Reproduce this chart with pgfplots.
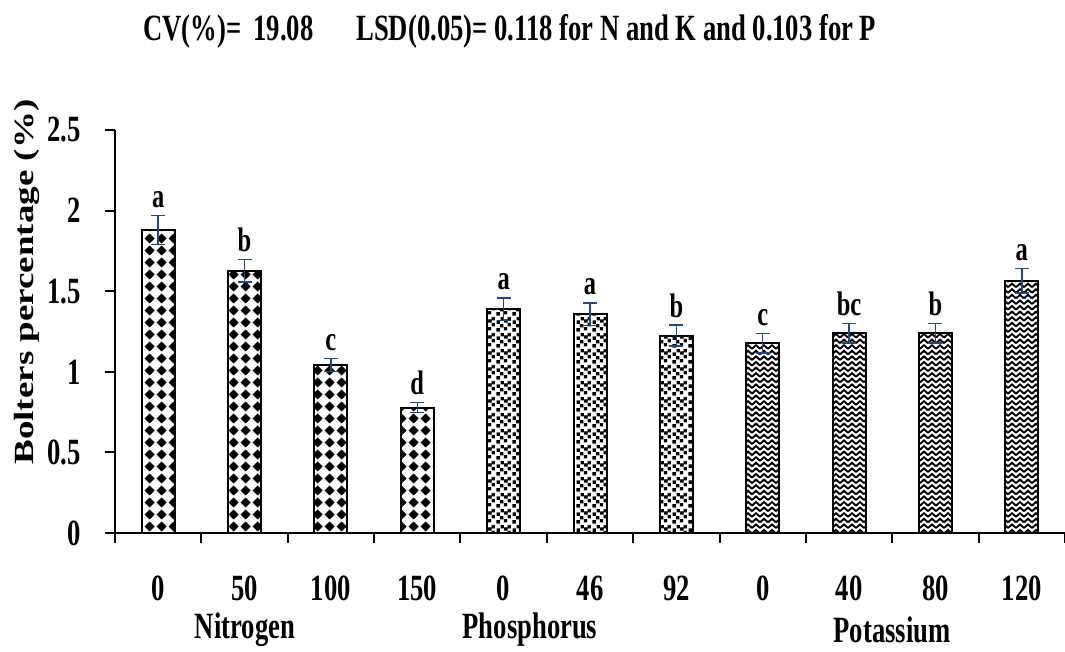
\documentclass[border=0pt]{standalone}
\usepackage{fontspec}
\setmainfont{Liberation Serif}[FakeStretch=0.72]
\newfontfamily\ylfont{Liberation Serif}
\usepackage{graphicx}
\usepackage{pgfplots}
\usepackage{pgfplotstable}
\pgfplotsset{compat=1.18}
\usetikzlibrary{patterns}
\definecolor{errblue}{RGB}{31,73,125}

\pgfdeclarepatternformonly{diamonds}{\pgfpointorigin}{\pgfpoint{6pt}{6pt}}{\pgfpoint{6pt}{6pt}}{%
 \pgfpathmoveto{\pgfpoint{3pt}{0.3pt}}%
 \pgfpathlineto{\pgfpoint{5.7pt}{3pt}}%
 \pgfpathlineto{\pgfpoint{3pt}{5.7pt}}%
 \pgfpathlineto{\pgfpoint{0.3pt}{3pt}}%
 \pgfpathclose
 \pgfusepath{fill}}

\pgfdeclarepatternformonly{sqdots}{\pgfpointorigin}{\pgfpoint{8pt}{8pt}}{\pgfpoint{8pt}{8pt}}{%
 \pgfpathrectangle{\pgfpoint{0.2pt}{0.2pt}}{\pgfpoint{1.8pt}{1.8pt}}%
 \pgfpathrectangle{\pgfpoint{4.1pt}{0.8pt}}{\pgfpoint{1.8pt}{1.8pt}}%
 \pgfpathrectangle{\pgfpoint{2.1pt}{2.4pt}}{\pgfpoint{1.8pt}{1.8pt}}%
 \pgfpathrectangle{\pgfpoint{6.1pt}{3.0pt}}{\pgfpoint{1.8pt}{1.8pt}}%
 \pgfpathrectangle{\pgfpoint{0.3pt}{4.3pt}}{\pgfpoint{1.8pt}{1.8pt}}%
 \pgfpathrectangle{\pgfpoint{4.3pt}{4.9pt}}{\pgfpoint{1.8pt}{1.8pt}}%
 \pgfpathrectangle{\pgfpoint{2.4pt}{6.2pt}}{\pgfpoint{1.7pt}{1.7pt}}%
 \pgfpathrectangle{\pgfpoint{6.2pt}{6.2pt}}{\pgfpoint{1.7pt}{1.7pt}}%
 \pgfusepath{fill}}

\pgfdeclarepatternformonly{weave}{\pgfpoint{-0.5pt}{-0.5pt}}{\pgfpoint{4.5pt}{3.3pt}}{\pgfpoint{4pt}{2.8pt}}{%
 \pgfsetlinewidth{0.95pt}%
 \pgfpathmoveto{\pgfpoint{0pt}{0.4pt}}%
 \pgfpathlineto{\pgfpoint{2pt}{2.2pt}}%
 \pgfpathlineto{\pgfpoint{4pt}{0.4pt}}%
 \pgfusepath{stroke}}

\pgfplotstableread{
x y err lab
0 1.880 0.090 a
1 1.627 0.070 b
2 1.043 0.040 c
3 0.778 0.030 d
}\dataN
\pgfplotstableread{
x y err lab
4 1.389 0.070 a
5 1.358 0.070 a
6 1.225 0.065 b
}\dataP
\pgfplotstableread{
x y err lab
7 1.178 0.060 c
8 1.240 0.060 bc
9 1.240 0.060 b
10 1.565 0.075 a
}\dataK

\begin{document}
\begin{tikzpicture}
\begin{axis}[
 at={(0,0)}, anchor=south west,
 scale only axis, width=475pt, height=201.5pt,
 xmin=-0.5, xmax=10.5, ymin=0, ymax=2.5,
 axis lines*=left,
 axis line style={line width=1pt},
 every tick/.style={line width=1pt, black},
 tick align=outside,
 major tick length=5pt,
 xtick={-0.5,0.5,...,10.5}, xticklabels={},
 extra x ticks={0,1,...,10},
 extra x tick labels={0,50,100,150,0,46,92,0,40,80,120},
 extra x tick style={major tick length=0pt, tick label style={yshift=-18pt}},
 ytick={0,0.5,...,2.5},
 yticklabel style={xshift=-8.5pt},
 tick label style={font=\fontsize{18.5}{22}\selectfont\bfseries},
 /pgf/number format/assume math mode=true,
 clip=false,
 error bars/y dir=both, error bars/y explicit,
 error bars/error bar style={errblue, line width=0.75pt},
 error bars/error mark options={rotate=90, errblue, mark size=3.5pt, line width=0.75pt},
]
\addplot[ybar, bar width=16.5pt, bar shift=0pt, draw=black, line width=1pt, pattern=diamonds]
  table[x=x, y=y, y error=err]{\dataN};
\addplot[ybar, bar width=16.5pt, bar shift=0pt, draw=black, line width=1pt, pattern=sqdots]
  table[x=x, y=y, y error=err]{\dataP};
\addplot[ybar, bar width=16.5pt, bar shift=0pt, draw=black, line width=1pt, pattern=weave]
  table[x=x, y=y, y error=err]{\dataK};
\pgfplotsset{lbl/.style={only marks, mark=none, nodes near coords, point meta=explicit symbolic,
  nodes near coords style={anchor=base, yshift=4pt, inner sep=0pt, font=\fontsize{17}{20}\selectfont\bfseries}}}
\addplot[lbl, error bars/y dir=none] table[x=x, y expr=\thisrow{y}+\thisrow{err}, meta=lab]{\dataN};
\addplot[lbl, error bars/y dir=none] table[x=x, y expr=\thisrow{y}+\thisrow{err}, meta=lab]{\dataP};
\addplot[lbl, error bars/y dir=none] table[x=x, y expr=\thisrow{y}+\thisrow{err}, meta=lab]{\dataK};
\end{axis}
\node[font=\fontsize{18.5}{22}\selectfont\bfseries] at (65pt,-48.5pt) {Nitrogen};
\node[font=\fontsize{18.5}{22}\selectfont\bfseries] at (207.5pt,-48.5pt) {Phosphorus};
\node[font=\fontsize{18.5}{22}\selectfont\bfseries] at (388.5pt,-48.5pt) {Potassium};
\node[anchor=base west, inner sep=0pt, font=\fontsize{18.5}{22}\selectfont\bfseries] at (14pt,246pt) {CV(\%)=\hspace{6pt}19.08\hspace{21.5pt}LSD(0.05)= 0.118 for N and K and 0.103 for P};
\node[rotate=90] at (-44pt,125.5pt) {\scalebox{1}[0.75]{\ylfont\bfseries\fontsize{18.5}{22}\selectfont Bolters percentage (\%)}};
\pgfresetboundingbox
\path (-57.5pt,-59.5pt) rectangle (475pt,266.5pt);
\end{tikzpicture}
\end{document}
